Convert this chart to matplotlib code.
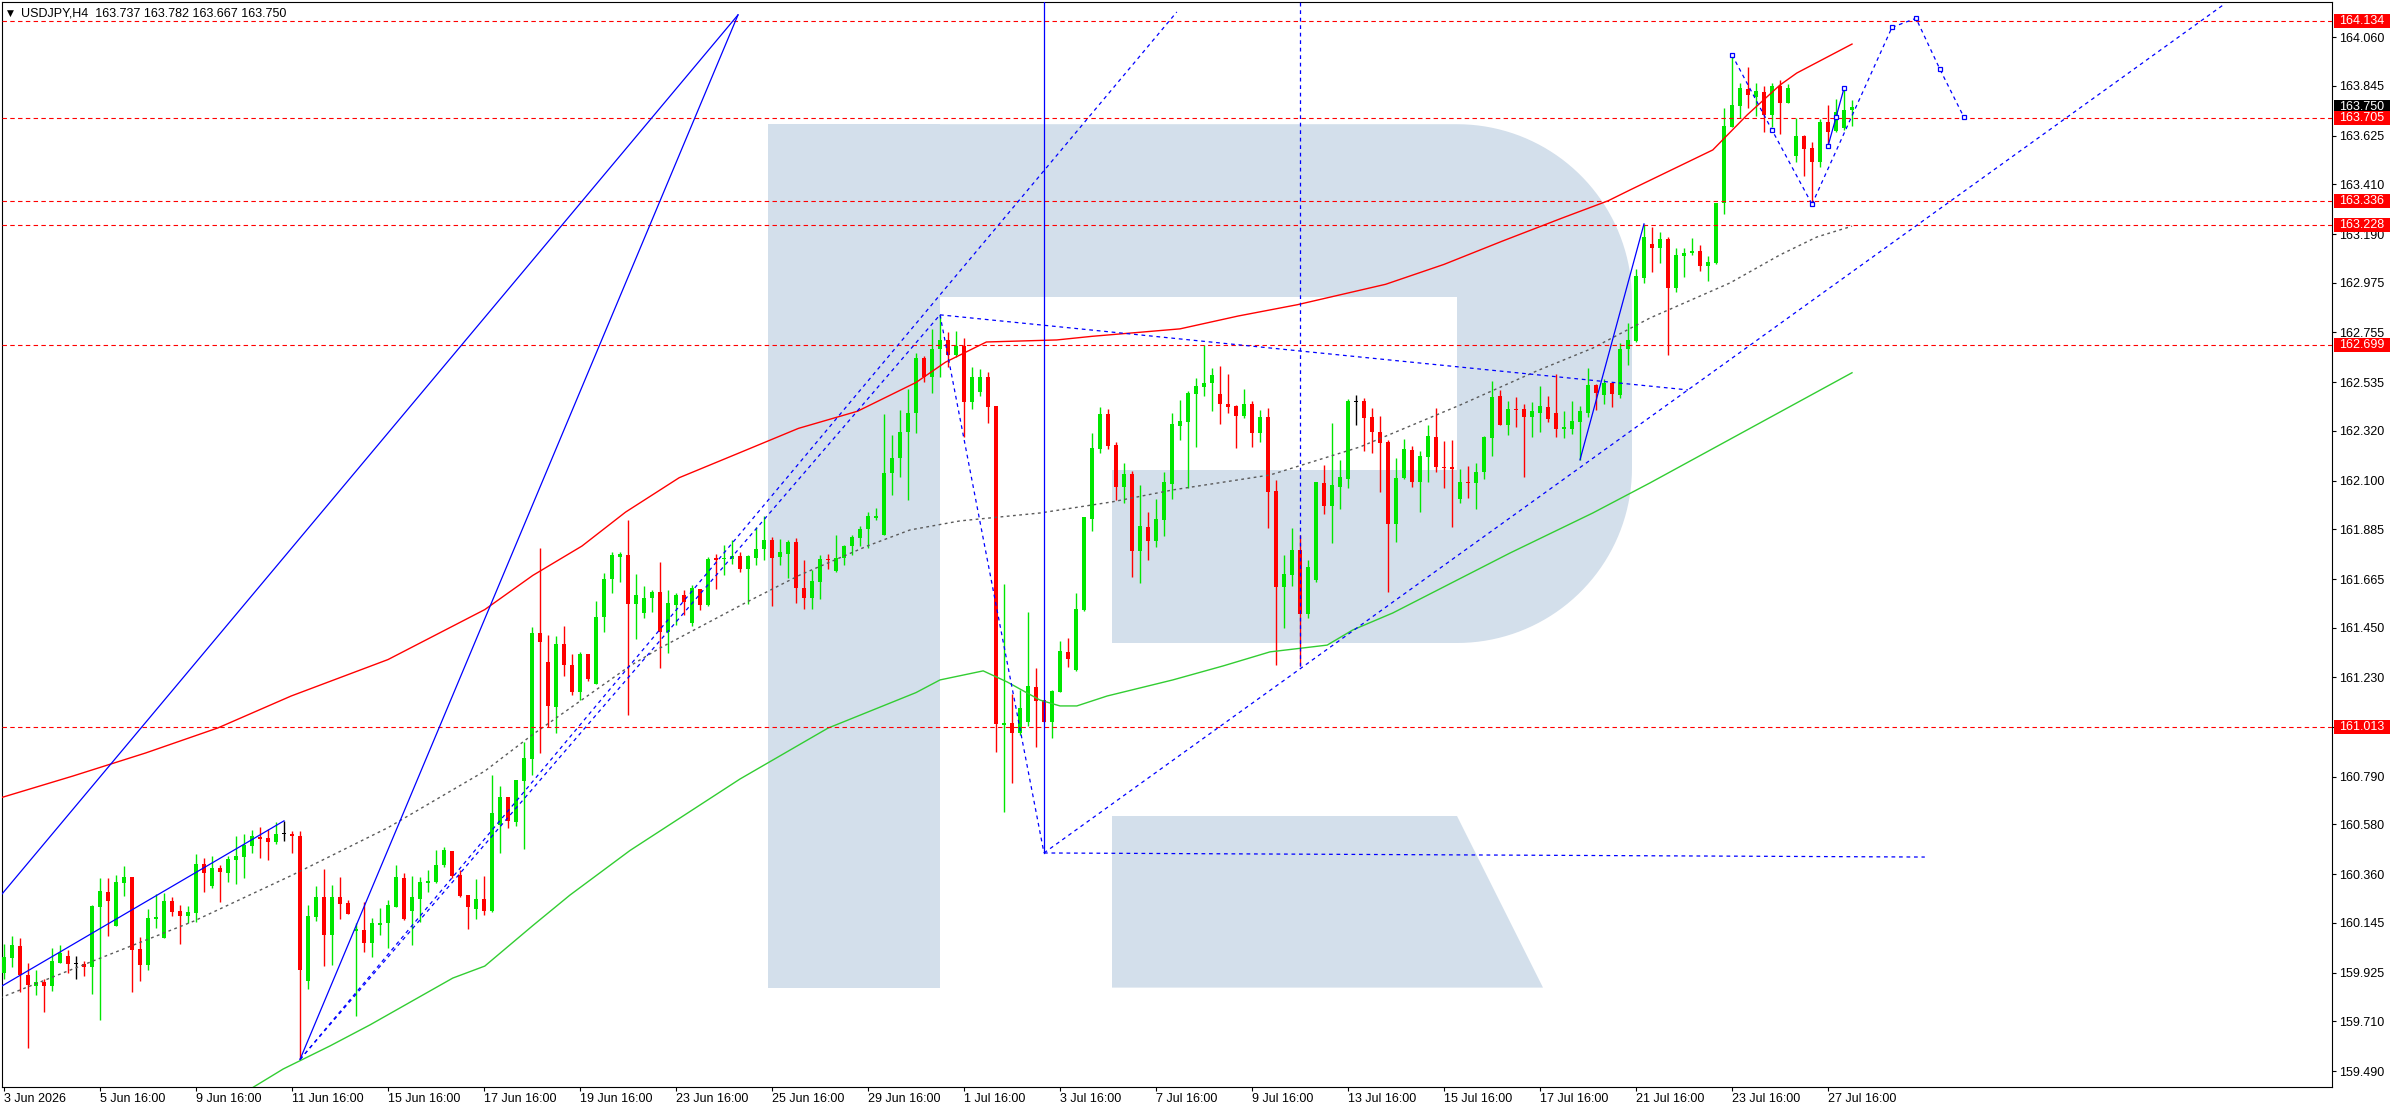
import numpy as np
import matplotlib
matplotlib.use('Agg')
import matplotlib.pyplot as plt
from matplotlib.patches import Rectangle, Polygon
from matplotlib.transforms import Affine2D, blended_transform_factory

plt.rcParams['font.family'] = ['Liberation Sans', 'DejaVu Sans']
plt.rcParams['font.size'] = 9

W, H = 2396, 1110

# USDJPY H4 candles (bar 0 = "3 Jun 2026")
opens = [
    159.922, 159.988, 160.042, 159.914, 159.867, 159.883, 159.867, 159.969, 159.998, 159.961,
    159.964, 159.951, 160.216, 160.281, 160.132, 160.321, 160.347, 160.029, 159.960, 160.162,
    160.079, 160.241, 160.197, 160.176, 160.188, 160.405, 160.309, 160.387, 160.365, 160.423,
    160.436, 160.486, 160.524, 160.520, 160.502, 160.536, 160.536, 160.530, 159.888, 160.171,
    160.259, 160.091, 160.261, 160.234, 160.110, 160.113, 160.054, 160.137, 160.143, 160.216,
    160.342, 160.199, 160.250, 160.323, 160.327, 160.401, 160.463, 160.356, 160.268, 160.208,
    160.250, 160.199, 160.577, 160.700, 160.592, 160.774, 160.871, 161.425, 161.297, 161.101,
    161.378, 161.285, 161.167, 161.334, 161.201, 161.495, 161.664, 161.764, 161.772, 161.554,
    161.514, 161.579, 161.607, 161.433, 161.551, 161.595, 161.470, 161.621, 161.551, 161.757,
    161.752, 161.754, 161.767, 161.710, 161.760, 161.797, 161.838, 161.764, 161.776, 161.828,
    161.624, 161.583, 161.654, 161.754, 161.702, 161.756, 161.809, 161.848, 161.887, 161.937,
    161.860, 162.133, 162.198, 162.313, 162.398, 162.641, 162.556, 162.681, 162.722, 162.656,
    162.695, 162.449, 162.493, 162.557, 162.430, 161.020, 161.027, 160.983, 161.035, 161.186,
    161.130, 161.035, 161.167, 161.344, 161.263, 161.528, 161.930, 162.240, 162.395, 162.258,
    162.073, 162.129, 161.790, 161.894, 161.835, 161.926, 162.085, 162.343, 162.361, 162.483,
    162.516, 162.530, 162.483, 162.439, 162.430, 162.386, 162.439, 162.312, 162.380, 162.055,
    161.632, 161.683, 161.794, 161.509, 161.661, 162.089, 161.990, 162.074, 162.108, 162.447,
    162.450, 162.383, 162.314, 162.273, 161.907, 162.111, 162.236, 162.096, 162.206, 162.295,
    162.162, 162.159, 162.019, 162.096, 162.091, 162.140, 162.290, 162.475, 162.346, 162.417,
    162.417, 162.383, 162.401, 162.424, 162.398, 162.330, 162.330, 162.361, 162.401, 162.523,
    162.479, 162.531, 162.479, 162.681, 162.719, 162.997, 163.146, 163.130, 163.168, 162.950,
    163.095, 163.105, 163.117, 163.050, 163.064, 163.329, 163.665, 163.756, 163.831, 163.795,
    163.820, 163.716, 163.845, 163.768, 163.535, 163.624, 163.572, 163.510, 163.684, 163.646,
    163.661, 163.737,
]
highs = [
    160.051, 160.087, 160.078, 159.966, 159.936, 159.899, 160.033, 160.047, 160.025, 159.998,
    159.976, 160.224, 160.343, 160.343, 160.356, 160.396, 160.347, 160.084, 160.206, 160.271,
    160.278, 160.260, 160.224, 160.219, 160.449, 160.430, 160.440, 160.400, 160.439, 160.530,
    160.536, 160.555, 160.567, 160.561, 160.589, 160.596, 160.549, 160.549, 160.224, 160.306,
    160.383, 160.312, 160.349, 160.246, 160.143, 160.239, 160.165, 160.209, 160.246, 160.401,
    160.364, 160.352, 160.349, 160.379, 160.467, 160.482, 160.463, 160.379, 160.268, 160.339,
    160.354, 160.799, 160.750, 160.700, 160.776, 160.946, 161.454, 161.802, 161.417, 161.413,
    161.457, 161.333, 161.344, 161.334, 161.568, 161.691, 161.786, 161.786, 161.926, 161.688,
    161.635, 161.617, 161.742, 161.617, 161.602, 161.617, 161.639, 161.621, 161.761, 161.776,
    161.816, 161.838, 161.786, 161.772, 161.894, 161.944, 161.853, 161.842, 161.838, 161.845,
    161.750, 161.705, 161.772, 161.775, 161.860, 161.816, 161.859, 161.901, 161.963, 161.978,
    162.394, 162.302, 162.413, 162.504, 162.666, 162.649, 162.769, 162.833, 162.756, 162.762,
    162.729, 162.604, 162.592, 162.582, 162.430, 161.643, 161.155, 161.175, 161.518, 161.270,
    161.130, 161.175, 161.391, 161.403, 161.602, 161.938, 162.312, 162.424, 162.417, 162.272,
    162.177, 162.143, 162.081, 161.963, 162.019, 162.140, 162.398, 162.457, 162.498, 162.555,
    162.700, 162.597, 162.607, 162.571, 162.434, 162.504, 162.454, 162.412, 162.423, 162.103,
    161.772, 161.890, 161.860, 161.750, 162.096, 162.170, 162.354, 162.192, 162.461, 162.479,
    162.467, 162.423, 162.386, 162.280, 162.199, 162.283, 162.254, 162.229, 162.346, 162.420,
    162.276, 162.280, 162.152, 162.165, 162.177, 162.298, 162.541, 162.501, 162.452, 162.469,
    162.438, 162.447, 162.519, 162.475, 162.572, 162.408, 162.452, 162.430, 162.597, 162.526,
    162.548, 162.531, 162.710, 162.796, 163.034, 163.235, 163.220, 163.199, 163.179, 163.127,
    163.130, 163.171, 163.142, 163.093, 163.326, 163.749, 163.982, 163.857, 163.927, 163.859,
    163.845, 163.859, 163.871, 163.852, 163.705, 163.628, 163.599, 163.699, 163.761, 163.787,
    163.834, 163.782,
]
lows = [
    159.899, 159.951, 159.838, 159.593, 159.827, 159.752, 159.845, 159.966, 159.924, 159.898,
    159.911, 159.832, 159.717, 160.088, 160.132, 160.263, 159.838, 159.889, 159.936, 160.123,
    160.079, 160.175, 160.053, 160.146, 160.150, 160.281, 160.297, 160.237, 160.325, 160.316,
    160.343, 160.453, 160.431, 160.423, 160.492, 160.508, 160.453, 159.541, 159.852, 160.153,
    159.954, 159.959, 160.162, 160.184, 159.735, 160.018, 159.993, 160.091, 160.032, 160.216,
    160.157, 160.047, 160.150, 160.283, 160.320, 160.390, 160.342, 160.258, 160.116, 160.162,
    160.181, 160.191, 160.455, 160.563, 160.575, 160.470, 160.799, 160.894, 161.012, 160.983,
    161.236, 161.153, 161.131, 161.216, 161.201, 161.433, 161.605, 161.654, 161.064, 161.399,
    161.492, 161.521, 161.271, 161.340, 161.462, 161.506, 161.458, 161.529, 161.546, 161.620,
    161.683, 161.732, 161.694, 161.554, 161.725, 161.747, 161.548, 161.725, 161.671, 161.561,
    161.532, 161.532, 161.576, 161.708, 161.694, 161.728, 161.772, 161.809, 161.801, 161.926,
    161.860, 162.037, 162.114, 162.015, 162.310, 162.534, 162.489, 162.556, 162.604, 162.646,
    162.291, 162.417, 162.476, 162.356, 160.902, 160.634, 160.762, 160.976, 161.015, 160.921,
    161.035, 160.961, 161.167, 161.278, 161.260, 161.525, 161.879, 162.224, 162.238, 162.014,
    161.999, 161.676, 161.649, 161.749, 161.808, 161.857, 162.019, 162.280, 162.066, 162.250,
    162.476, 162.409, 162.350, 162.401, 162.243, 162.375, 162.250, 162.272, 161.890, 161.285,
    161.450, 161.635, 161.280, 161.492, 161.654, 161.953, 161.826, 161.975, 162.069, 162.346,
    162.231, 162.224, 162.052, 161.607, 161.828, 162.108, 162.074, 161.963, 162.096, 162.136,
    162.069, 161.893, 162.000, 162.025, 161.975, 162.108, 162.211, 162.346, 162.302, 162.335,
    162.118, 162.295, 162.317, 162.361, 162.295, 162.290, 162.308, 162.192, 162.383, 162.413,
    162.439, 162.427, 162.464, 162.612, 162.714, 162.972, 163.021, 163.064, 162.656, 162.935,
    162.999, 163.098, 163.028, 162.984, 163.058, 163.279, 163.665, 163.705, 163.746, 163.712,
    163.643, 163.665, 163.631, 163.768, 163.510, 163.447, 163.319, 163.488, 163.588, 163.643,
    163.650, 163.667,
]
closes = [
    159.995, 160.047, 159.914, 159.870, 159.883, 159.867, 159.976, 160.014, 159.964, 159.961,
    159.951, 160.221, 160.285, 160.243, 160.325, 160.347, 160.026, 159.960, 160.166, 160.171,
    160.241, 160.194, 160.176, 160.193, 160.405, 160.365, 160.387, 160.370, 160.427, 160.440,
    160.489, 160.529, 160.515, 160.502, 160.539, 160.536, 160.530, 159.936, 160.175, 160.259,
    160.092, 160.261, 160.228, 160.184, 160.118, 160.054, 160.143, 160.144, 160.224, 160.349,
    160.162, 160.258, 160.327, 160.330, 160.401, 160.467, 160.354, 160.265, 160.213, 160.250,
    160.199, 160.629, 160.700, 160.597, 160.776, 160.874, 161.425, 161.388, 161.105, 161.378,
    161.285, 161.167, 161.334, 161.224, 161.496, 161.664, 161.772, 161.776, 161.554, 161.595,
    161.580, 161.608, 161.433, 161.558, 161.595, 161.565, 161.624, 161.551, 161.754, 161.750,
    161.760, 161.767, 161.710, 161.767, 161.798, 161.838, 161.760, 161.784, 161.828, 161.624,
    161.583, 161.657, 161.754, 161.747, 161.760, 161.811, 161.853, 161.887, 161.944, 161.944,
    162.133, 162.199, 162.314, 162.398, 162.641, 162.556, 162.681, 162.722, 162.656, 162.696,
    162.449, 162.557, 162.557, 162.427, 161.023, 161.027, 160.983, 161.093, 161.192, 161.127,
    161.035, 161.170, 161.347, 161.310, 161.531, 161.938, 162.243, 162.395, 162.255, 162.073,
    162.129, 161.790, 161.900, 161.835, 161.929, 162.093, 162.349, 162.364, 162.489, 162.518,
    162.533, 162.567, 162.439, 162.427, 162.386, 162.439, 162.312, 162.380, 162.051, 161.632,
    161.688, 161.794, 161.509, 161.720, 162.096, 161.990, 162.081, 162.114, 162.452, 162.447,
    162.379, 162.313, 162.268, 161.907, 162.111, 162.239, 162.096, 162.209, 162.298, 162.162,
    162.158, 162.150, 162.096, 162.090, 162.140, 162.295, 162.469, 162.346, 162.417, 162.413,
    162.383, 162.408, 162.430, 162.374, 162.330, 162.338, 162.364, 162.408, 162.523, 162.486,
    162.531, 162.483, 162.681, 162.722, 163.005, 163.179, 163.130, 163.167, 162.950, 163.098,
    163.105, 163.117, 163.050, 163.065, 163.326, 163.668, 163.761, 163.834, 163.805, 163.823,
    163.716, 163.845, 163.771, 163.837, 163.624, 163.568, 163.510, 163.687, 163.643, 163.731,
    163.739, 163.750,
]

time_labels = ['3 Jun 2026', '5 Jun 16:00', '9 Jun 16:00', '11 Jun 16:00', '15 Jun 16:00',
               '17 Jun 16:00', '19 Jun 16:00', '23 Jun 16:00', '25 Jun 16:00', '29 Jun 16:00',
               '1 Jul 16:00', '3 Jul 16:00', '7 Jul 16:00', '9 Jul 16:00', '13 Jul 16:00',
               '15 Jul 16:00', '17 Jul 16:00', '21 Jul 16:00', '23 Jul 16:00', '27 Jul 16:00']
price_ticks = [164.060, 163.845, 163.625, 163.410, 163.190, 162.975, 162.755, 162.535,
               162.320, 162.100, 161.885, 161.665, 161.450, 161.230, 161.010, 160.790,
               160.580, 160.360, 160.145, 159.925, 159.710, 159.490]
levels = [164.134, 163.705, 163.336, 163.228, 162.699, 161.013]
last_price = 163.750

# moving averages, sampled off the chart (bar, price)
red_ma_x = [-0.5, 8.6, 17.7, 26.75, 35.9, 48.0, 60.1, 66.1, 72.25, 77.7, 84.4, 92.0, 99.3,
            106.7, 114.0, 117.7, 122.8, 131.6, 136.0, 147.0, 154.3, 161.7, 172.7, 180.0,
            187.3, 194.7, 200.5, 203.25, 213.6, 217.9, 222.0, 224.1, 231.0]
red_ma_y = [160.697, 160.794, 160.896, 161.007, 161.148, 161.309, 161.530, 161.681, 161.811,
            161.961, 162.113, 162.224, 162.331, 162.407, 162.534, 162.624, 162.713, 162.722,
            162.738, 162.771, 162.828, 162.878, 162.968, 163.056, 163.159, 163.260, 163.337,
            163.385, 163.562, 163.717, 163.849, 163.902, 164.030]
green_ma_x = [31.0, 34.9, 40.75, 45.75, 56.1, 60.1, 66.1, 70.75, 78.25, 92.0, 103.0, 114.0,
              117.0, 122.4, 125.4, 129.5, 132.0, 134.1, 137.9, 146.1, 152.4, 158.25, 165.4,
              168.6, 173.6, 188.25, 198.6, 205.75, 231.0]
green_ma_y = [159.415, 159.499, 159.601, 159.694, 159.901, 159.954, 160.133, 160.268, 160.465,
              160.781, 161.006, 161.163, 161.219, 161.259, 161.210, 161.130, 161.104, 161.104,
              161.148, 161.219, 161.281, 161.343, 161.373, 161.440, 161.515, 161.780, 161.957,
              162.090, 162.577]
gray_ma_x = [-0.5, 11.6, 23.75, 35.9, 48.0, 60.1, 66.1, 78.25, 82.0, 92.9, 99.5, 107.9,
             113.25, 119.5, 129.5, 138.5, 146.1, 158.25, 169.5, 182.0, 191.6, 198.6, 205.75,
             215.75, 222.0, 226.6, 231.0]
gray_ma_y = [159.813, 159.983, 160.153, 160.354, 160.566, 160.816, 160.978, 161.281, 161.360,
             161.564, 161.683, 161.811, 161.882, 161.922, 161.957, 162.006, 162.059, 162.125,
             162.249, 162.434, 162.585, 162.686, 162.819, 162.974, 163.098, 163.177, 163.225]

# drawn objects: anchor points (bar, price)
solid_lines = [
    ([-0.5, 91.75], [160.262, 164.159]),
    ([37, 91.75], [159.541, 164.159]),
    ([-0.5, 35], [159.861, 160.596]),
    ([130, 130], [160.454, 164.3]),
    ([197, 205], [162.192, 163.235]),
    ([228, 229, 230], [163.579, 163.706, 163.834]),
]
dotted_lines = [
    ([37, 146.6], [159.541, 164.172]),
    ([37, 117], [159.541, 162.833]),
    ([117, 210.5], [162.833, 162.501]),
    ([117, 130], [162.833, 160.454]),
    ([130, 240.1], [160.454, 160.436]),
    ([130, 277.4], [160.454, 164.203]),
    ([162, 162], [161.280, 164.3]),
    ([216, 221, 226], [163.982, 163.650, 163.322]),
    ([226, 236], [163.322, 164.104]),
    ([236, 239, 242, 245], [164.104, 164.144, 163.918, 163.706]),
]
marker_x = [216, 221, 226, 228, 229, 230, 236, 239, 242, 245]
marker_y = [163.982, 163.650, 163.322, 163.579, 163.706, 163.834, 164.104, 164.144, 163.918, 163.706]

fig = plt.figure(figsize=(W / 100, H / 100), dpi=100)
fig.patch.set_facecolor('white')
ax = fig.add_axes([2 / W, 1 - 1087 / H, 2330 / W, 1085 / H])
ax.set_facecolor('none')

# watermark logo, pixel coordinates from the top-left of the image
px = Affine2D().scale(1 / W, -1 / H).translate(0, 1) + fig.transFigure
logo_color = '#d3dfeb'
r = 175
t = np.linspace(0, np.pi / 2, 40)
arc_top = np.column_stack([1457 + r * np.sin(t), 299.2 - r * np.cos(t)])
arc_bot = np.column_stack([1457 + r * np.cos(t), 468 + r * np.sin(t)])
bowl = np.vstack([[[939.5, 124.2]], arc_top, arc_bot,
                  [[1112, 643], [1112, 470], [1457, 470], [1457, 297], [939.5, 297]]])
logo_parts = [
    Rectangle((767.6, 124.2), 171.9, 863.4),
    Polygon(bowl, closed=True),
    Polygon([[1112, 816], [1457, 816], [1543, 987.6], [1112, 987.6]], closed=True),
]
for p in logo_parts:
    p.set_transform(px)
    p.set_facecolor(logo_color)
    p.set_edgecolor('none')
    p.set_zorder(-1)
    fig.add_artist(p)

# candles
x = np.arange(len(closes))
o = np.array(opens)
hi = np.array(highs)
lo = np.array(lows)
c = np.array(closes)
cols = np.where(c > o, '#00e600', np.where(c < o, '#ff0000', '#000000'))
ax.vlines(x, lo, hi, colors=cols, lw=1.0, zorder=3)
body_lo = np.minimum(o, c)
body_h = np.maximum(np.abs(c - o), 0.0045)
ax.bar(x, body_h, bottom=body_lo, width=0.62, color=cols, lw=0, zorder=4)

# indicators
ax.plot(red_ma_x, red_ma_y, color='#ff0000', lw=1.0, zorder=5)
ax.plot(green_ma_x, green_ma_y, color='#32cd32', lw=1.0, zorder=5)
ax.plot(gray_ma_x, gray_ma_y, color='#5a5a5a', lw=1.0, dashes=(2, 2.5), zorder=5)

# horizontal levels
for lv in levels:
    ax.axhline(lv, color='#ff0000', lw=0.8, dashes=(4, 3), zorder=6)

for xs, ys in solid_lines:
    ax.plot(xs, ys, color='#0000ff', lw=0.9, zorder=7)
for xs, ys in dotted_lines:
    ax.plot(xs, ys, color='#0000ff', lw=0.9, dashes=(3, 3), zorder=7)
ax.plot(marker_x, marker_y, ls='none', marker='s', ms=3.2, mfc='white', mec='#0000ff',
        mew=0.9, zorder=8)

ax.set_xlim(-0.25, 291)
ax.set_ylim(159.4194, 164.216)

# axes
ax.yaxis.tick_right()
ax.set_yticks(price_ticks)
ax.set_yticklabels([f'{v:.3f}' for v in price_ticks])
ax.tick_params(axis='y', direction='out', length=2.9, width=0.8, pad=2.5, labelsize=9)
ax.set_xticks(np.arange(0, len(time_labels) * 12, 12))
ax.set_xticklabels(time_labels, ha='left')
ax.tick_params(axis='x', direction='out', length=2.9, width=0.8, pad=1.5, labelsize=9)
for s in ax.spines.values():
    s.set_linewidth(0.8)

# price labels on the right
trans = blended_transform_factory(ax.transAxes, ax.transData)
box_h = 14 / 226.2
box_w = 56 / 2330
ax.add_patch(Rectangle((1 + 2 / 2330, last_price - box_h / 2), box_w, box_h, transform=trans,
                       facecolor='black', edgecolor='none', clip_on=False, zorder=18))
ax.text(1 + 7 / 2330, last_price, f'{last_price:.3f}', transform=trans, color='white',
        fontsize=9, va='center', ha='left', clip_on=False, zorder=19)
for lv in levels:
    ax.add_patch(Rectangle((1 + 2 / 2330, lv - box_h / 2), box_w, box_h, transform=trans,
                           facecolor='#ff0000', edgecolor='none', clip_on=False, zorder=20))
    ax.text(1 + 7 / 2330, lv, f'{lv:.3f}', transform=trans, color='white', fontsize=9,
            va='center', ha='left', clip_on=False, zorder=21)

# header
fig.text(7 / W, 1 - 13 / H, '\u25bc', fontsize=6.5, family='DejaVu Sans', va='center')
fig.text(21 / W, 1 - 13 / H, 'USDJPY,H4  163.737 163.782 163.667 163.750', fontsize=9,
         va='center')

fig.savefig('out.png', dpi=100)
